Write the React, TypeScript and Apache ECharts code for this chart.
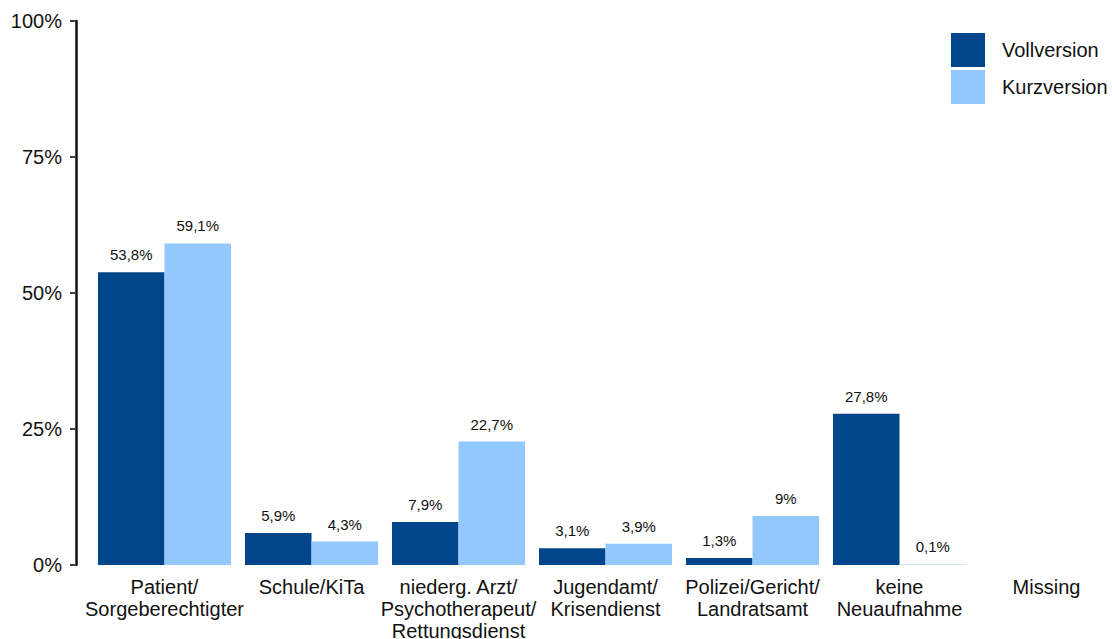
import React, { useEffect, useRef } from "react";
import * as echarts from "echarts";

const categories = [
  "Patient/\nSorgeberechtigter",
  "Schule/KiTa",
  "niederg. Arzt/\nPsychotherapeut/\nRettungsdienst",
  "Jugendamt/\nKrisendienst",
  "Polizei/Gericht/\nLandratsamt",
  "keine\nNeuaufnahme",
  "Missing",
];
const vollversion = [53.8, 5.9, 7.9, 3.1, 1.3, 27.8, null];
const kurzversion = [59.1, 4.3, 22.7, 3.9, 9, 0.1, null];
const yTicks = [0, 25, 50, 75, 100];

const FONT = "Liberation Sans, Arial, sans-serif";

export default function App() {
  const ref = useRef<HTMLDivElement>(null);
  useEffect(() => {
    document.body.style.margin = "0";
    const chart = echarts.init(ref.current!, null, { renderer: "svg" });
    const labelFmt = (p: any) =>
      p.value == null ? "" : String(p.value).replace(".", ",") + "%";
    const barLabel = {
      show: true,
      position: "top",
      distance: 10,
      fontSize: 15,
      fontFamily: FONT,
      color: "#111",
      formatter: labelFmt,
    };
    chart.setOption({
      animation: false,
      textStyle: { fontFamily: FONT },
      grid: {
        left: 91,
        right: 0,
        top: 21,
        bottom: 74,
        containLabel: false,
        outerBoundsMode: "none",
      },
      legend: {
        orient: "vertical",
        left: 951,
        top: 33,
        padding: 0,
        itemWidth: 34,
        itemHeight: 34,
        itemGap: 3,
        icon: "rect",
        textStyle: {
          fontSize: 20,
          fontFamily: FONT,
          color: "#111",
          padding: [0, 0, 0, 12],
        },
        data: ["Vollversion", "Kurzversion"],
      },
      xAxis: {
        type: "category",
        data: categories,
        axisLine: { show: false },
        axisTick: { show: false },
        axisLabel: {
          fontSize: 20,
          fontFamily: FONT,
          color: "#111",
          lineHeight: 22,
          margin: 11,
          interval: 0,
        },
      },
      yAxis: {
        type: "value",
        min: yTicks[0],
        max: yTicks[yTicks.length - 1],
        interval: 25,
        offset: 15,
        splitLine: { show: false },
        axisLine: { show: true, lineStyle: { color: "#111", width: 2.5 } },
        axisTick: { show: true, length: 6, lineStyle: { color: "#444", width: 2 } },
        axisLabel: {
          fontSize: 20,
          fontFamily: FONT,
          color: "#111",
          margin: 14,
          formatter: (v: number) => v + "%",
        },
      },
      series: [
        {
          name: "Vollversion",
          type: "bar",
          data: vollversion,
          barGap: "0%",
          barCategoryGap: "9.5%",
          itemStyle: { color: "#01458A" },
          label: barLabel,
        },
        {
          name: "Kurzversion",
          type: "bar",
          data: kurzversion,
          barGap: "0%",
          barCategoryGap: "9.5%",
          itemStyle: { color: "#92C8FE" },
          label: barLabel,
        },
      ],
    });
    return () => chart.dispose();
  }, []);
  return (
    <div style={{ width: 1112, height: 639, overflow: "hidden", position: "relative" }}>
      <div ref={ref} style={{ width: 1120, height: 639 }} />
    </div>
  );
}
